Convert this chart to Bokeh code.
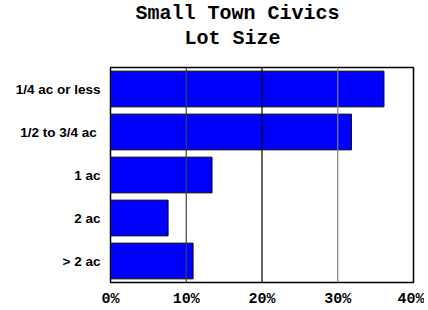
from bokeh.plotting import figure
from bokeh.models import Title, Span, FactorRange, NumeralTickFormatter, FixedTicker
from bokeh.embed import file_html
from bokeh.resources import INLINE

title_lines = ["Small Town Civics", "Lot Size"]
categories = ["1/4 ac or less", "1/2  to 3/4 ac", "1 ac", "2 ac", "> 2 ac"]
shares = [0.361, 0.318, 0.134, 0.076, 0.109]
x_ticks = [0.0, 0.1, 0.2, 0.3, 0.4]
grid_colors = ["#404040", "#000000", "#808080"]

p = figure(width=424, height=310, output_backend="svg", toolbar_location=None,
           y_range=FactorRange(*reversed(categories), range_padding=0),
           x_range=(0, 0.4), min_border_left=110, min_border_right=11,
           min_border_top=67, min_border_bottom=28, title=None)
p.background_fill_color = "white"
p.border_fill_color = "white"
p.outline_line_color = "black"
p.outline_line_width = 1.5
p.xgrid.visible = False
p.ygrid.visible = False

for t, c in zip(x_ticks[1:4], grid_colors):
    p.add_layout(Span(location=t, dimension="height", line_color=c, line_width=1.2))

p.hbar(y=categories, right=shares, left=0, height=0.83,
       fill_color="#0000FF", line_color="black", line_width=1)

p.xaxis.ticker = FixedTicker(ticks=x_ticks)
p.xaxis.formatter = NumeralTickFormatter(format="0%")
p.xaxis.axis_line_color = None
p.xaxis.major_tick_line_color = None
p.xaxis.minor_tick_line_color = None
p.xaxis.major_tick_out = 0
p.xaxis.major_tick_in = 0
p.xaxis.major_label_text_font = "Liberation Mono"
p.xaxis.major_label_text_font_style = "bold"
p.xaxis.major_label_text_font_size = "15px"
p.xaxis.major_label_text_color = "black"
p.xaxis.major_label_standoff = 8

p.yaxis.axis_line_color = None
p.yaxis.major_tick_line_color = None
p.yaxis.minor_tick_line_color = None
p.yaxis.major_tick_out = 0
p.yaxis.major_tick_in = 0
p.yaxis.major_label_text_font = "Liberation Sans"
p.yaxis.major_label_text_font_style = "bold"
p.yaxis.major_label_text_font_size = "13.5px"
p.yaxis.major_label_text_color = "black"
p.yaxis.major_label_standoff = 10

for txt, off, so in [(title_lines[1], 74, 35), (title_lines[0], 25, -35.5)]:
    p.add_layout(Title(text=txt, align="left", offset=off, standoff=so,
                       text_font="Liberation Mono", text_font_style="bold",
                       text_font_size="20px", text_color="black"), "above")

open("out.html", "w").write(file_html(p, INLINE))
